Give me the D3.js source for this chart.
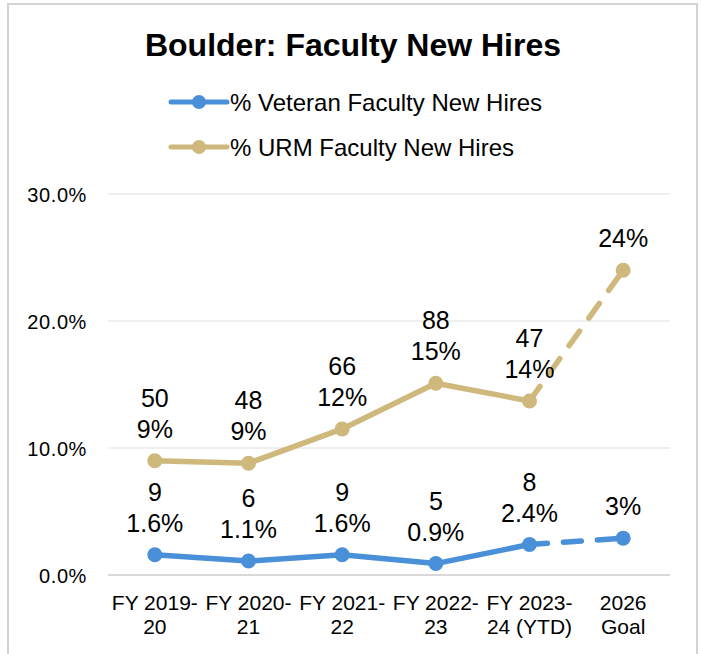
<!DOCTYPE html>
<html>
<head>
<meta charset="utf-8">
<script src="https://d3js.org/d3.v7.min.js"></script>
<style>
    body { margin: 0; background: #fff; }
    text { font-family: 'Liberation Sans', Arial, sans-serif; fill: #000; }
    .title { font-size: 32px; font-weight: bold; }
    .legend { font-size: 24px; }
    .xlab { font-size: 21px; }
    .dlabel { font-size: 25px; }
    .yaxis text { font-size: 20px; letter-spacing: 0.6px; }
</style>
</head>
<body>
<svg width="701" height="654"></svg>
<script>
    // chart data
    var categories = ["FY 2019-|20", "FY 2020-|21", "FY 2021-|22", "FY 2022-|23", "FY 2023-|24 (YTD)", "2026|Goal"];
    var veteranPct = [1.6, 1.1, 1.6, 0.9, 2.4, 2.9];
    var veteranLabels = ["9|1.6%", "6|1.1%", "9|1.6%", "5|0.9%", "8|2.4%", "3%"];
    var urmPct = [9.0, 8.8, 11.5, 15.1, 13.7, 24.0];
    var urmLabels = ["50|9%", "48|9%", "66|12%", "88|15%", "47|14%", "24%"];
    var yTicks = [0, 10, 20, 30];

    var blue = "#4a90d9";
    var gold = "#cfb87c";

    var svg = d3.select("svg");

    // outer frame of the chart
    svg.append("path")
        .attr("d", "M8,660 V4 H697 V660")
        .attr("fill", "none")
        .attr("stroke", "#d4d4d4")
        .attr("stroke-width", 2);

    var xScale = d3.scaleBand()
        .domain(categories)
        .range([108, 670]);

    var yScale = d3.scaleLinear()
        .domain([0, 30])
        .range([575, 194]);

    svg.append("text")
        .attr("class", "title")
        .attr("x", 353)
        .attr("y", 56)
        .attr("text-anchor", "middle")
        .text("Boulder: Faculty New Hires");

    // gridlines
    svg.append("g")
        .selectAll("line")
        .data(yTicks)
        .enter().append("line")
        .attr("x1", 108)
        .attr("x2", 670)
        .attr("y1", function (d) { return yScale(d); })
        .attr("y2", function (d) { return yScale(d); })
        .attr("stroke", function (d) { return d === 0 ? "#d9d9d9" : "#efefef"; })
        .attr("stroke-width", 2);

    var yAxis = svg.append("g")
        .attr("class", "yaxis")
        .attr("transform", "translate(87,0)")
        .call(d3.axisLeft(yScale).tickValues(yTicks).tickSize(0).tickPadding(0)
            .tickFormat(function (d) { return d.toFixed(1) + "%"; }));
    yAxis.attr("font-size", 20).attr("font-family", null);
    yAxis.select(".domain").remove();
    yAxis.selectAll(".tick text").attr("dy", "0.36em");

    // x labels, two lines each
    var xl = svg.append("g").selectAll("text")
        .data(categories)
        .enter().append("text")
        .attr("class", "xlab")
        .attr("text-anchor", "middle")
        .attr("x", function (d) { return xScale(d) + xScale.bandwidth() / 2; })
        .attr("y", 610);
    xl.selectAll("tspan")
        .data(function (d) { return d.split("|"); })
        .enter().append("tspan")
        .attr("x", function () { return this.parentNode.getAttribute("x"); })
        .attr("dy", function (d, i) { return i === 0 ? 0 : 24; })
        .text(function (d) { return d; });

    function cx(i) { return xScale(categories[i]) + xScale.bandwidth() / 2; }

    function drawSeries(vals, labels, color) {
        var pts = vals.map(function (v, i) { return [cx(i), yScale(v)]; });
        var line = d3.line();
        svg.append("path")
            .attr("d", line(pts.slice(0, 5)))
            .attr("fill", "none")
            .attr("stroke", color)
            .attr("stroke-width", 5.5)
            .attr("stroke-linejoin", "round");
        svg.append("path")
            .attr("d", line(pts.slice(4)))
            .attr("fill", "none")
            .attr("stroke", color)
            .attr("stroke-width", 5.5)
            .attr("stroke-linecap", "round")
            .attr("stroke-dasharray", "18,16");
        svg.append("g").selectAll("circle")
            .data(pts)
            .enter().append("circle")
            .attr("cx", function (d) { return d[0]; })
            .attr("cy", function (d) { return d[1]; })
            .attr("r", 7.5)
            .attr("fill", color);

        var lab = svg.append("g").selectAll("text")
            .data(labels)
            .enter().append("text")
            .attr("class", "dlabel")
            .attr("text-anchor", "middle")
            .attr("x", function (d, i) { return pts[i][0]; })
            .attr("y", function (d, i) { return pts[i][1] - 23; });
        lab.each(function (d) {
            var parts = d.split("|");
            var t = d3.select(this);
            var x = t.attr("x");
            parts.forEach(function (p, j) {
                t.append("tspan")
                    .attr("x", x)
                    .attr("dy", j === 0 ? -(parts.length - 1) * 31 : 31)
                    .text(p);
            });
        });
    }

    drawSeries(urmPct, urmLabels, gold);
    drawSeries(veteranPct, veteranLabels, blue);

    // legend
    function legendEl(y, color, label) {
        svg.append("line")
            .attr("x1", 171).attr("x2", 227)
            .attr("y1", y).attr("y2", y)
            .attr("stroke", color)
            .attr("stroke-width", 5)
            .attr("stroke-linecap", "round");
        svg.append("circle")
            .attr("cx", 199).attr("cy", y).attr("r", 7)
            .attr("fill", color);
        svg.append("text")
            .attr("class", "legend")
            .attr("x", 230)
            .attr("y", y + 9)
            .text(label);
    }
    legendEl(102, blue, "% Veteran Faculty New Hires");
    legendEl(147, gold, "% URM Faculty New Hires");
</script>
</body>
</html>
